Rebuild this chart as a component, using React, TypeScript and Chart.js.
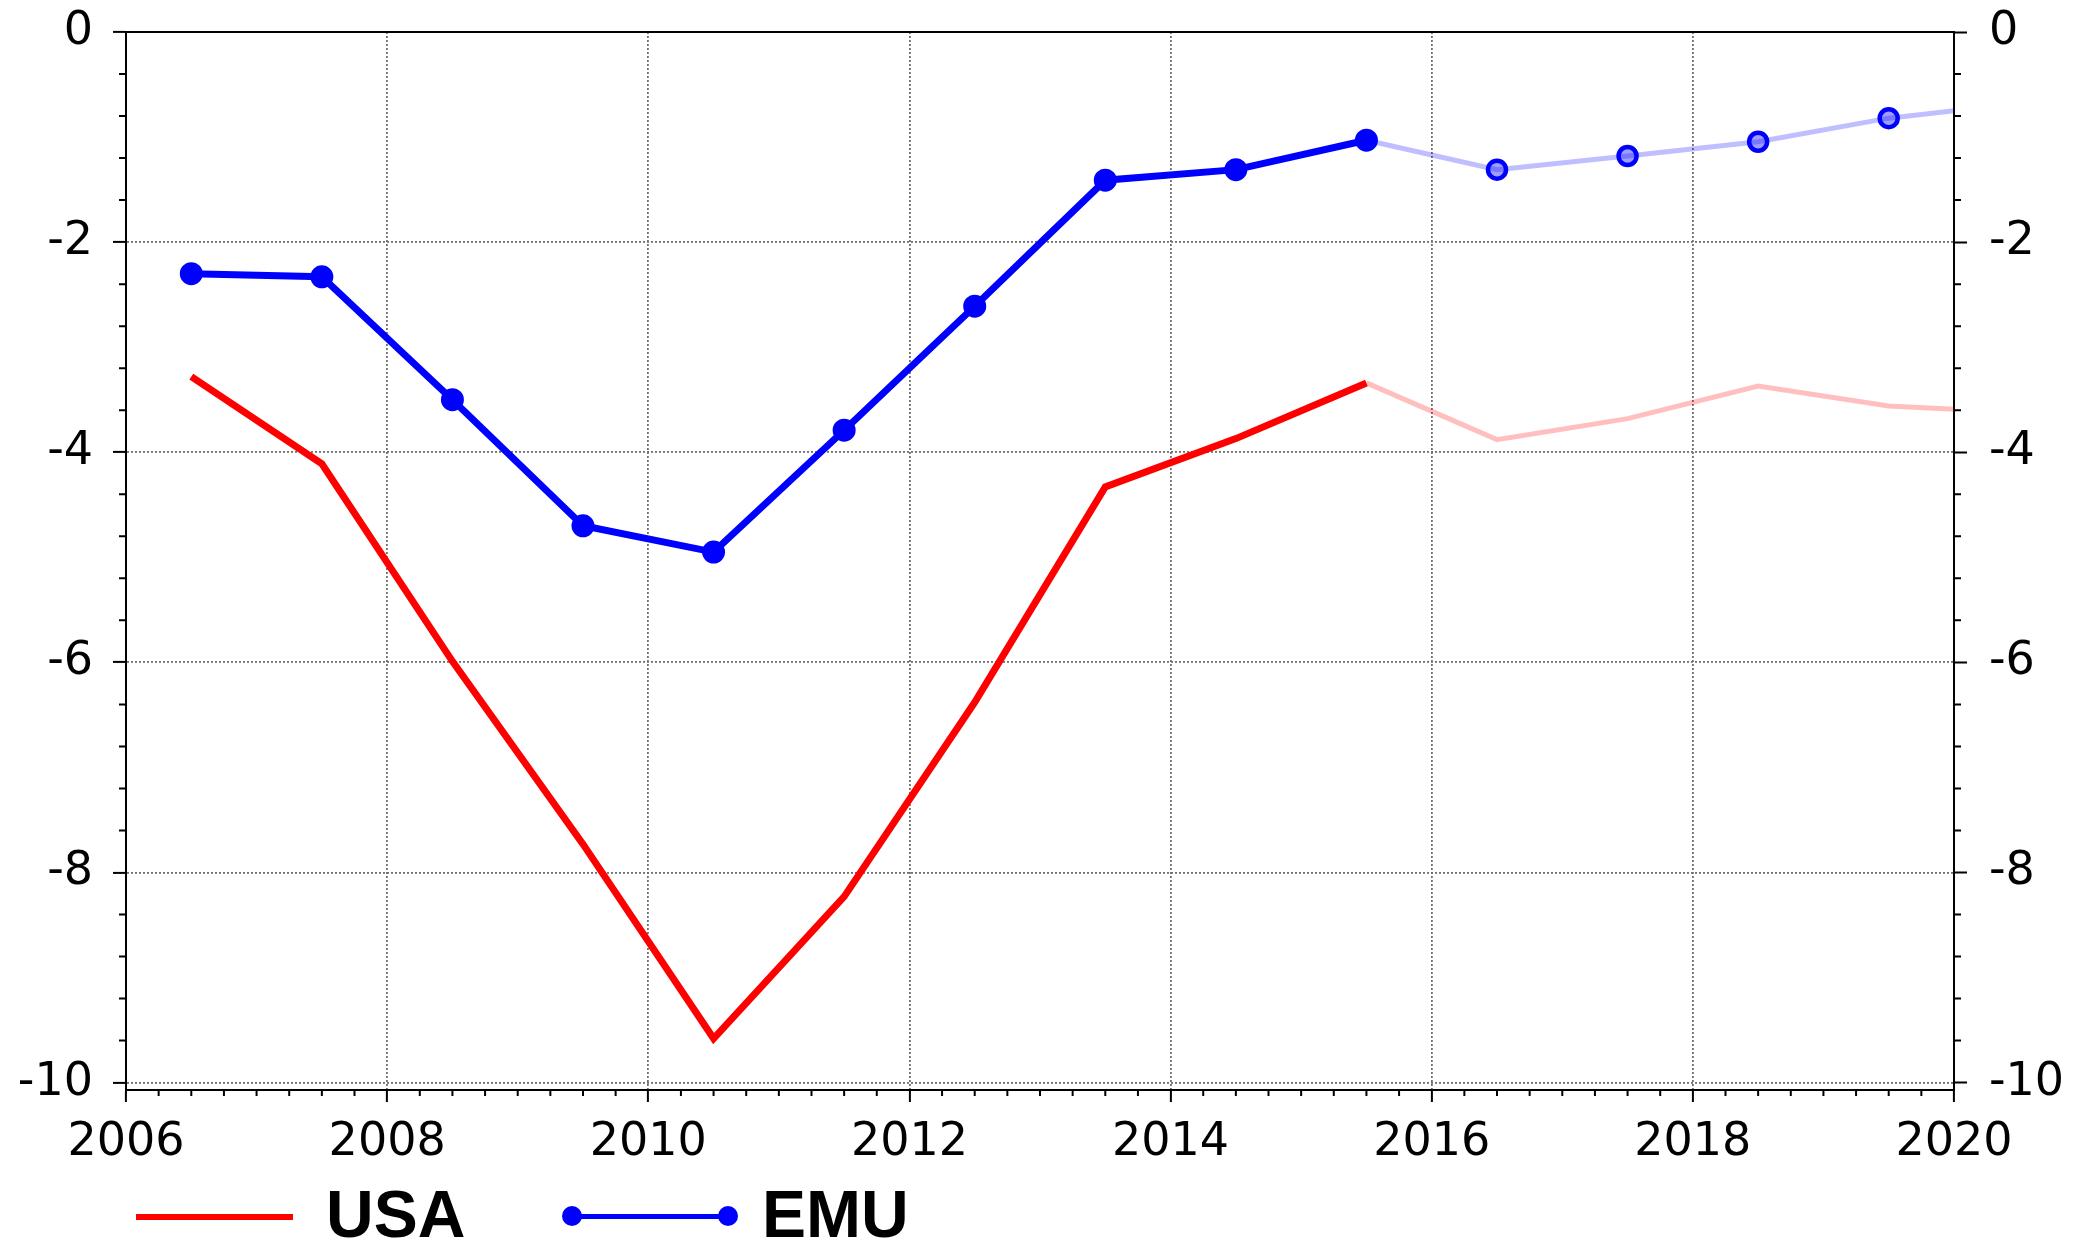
import React, { useEffect, useRef } from "react";
import { Chart, registerables } from "chart.js";

Chart.register(...registerables);

// ---- data ----
const YEARS = [2006.5, 2007.5, 2008.5, 2009.5, 2010.5, 2011.5, 2012.5, 2013.5, 2014.5, 2015.5, 2016.5, 2017.5, 2018.5, 2019.5, 2020.5];
const USA = [-3.28, -4.11, -5.99, -7.73, -9.58, -8.23, -6.38, -4.33, -3.87, -3.34, -3.88, -3.68, -3.37, -3.56, -3.62];
const EMU = [-2.30, -2.33, -3.50, -4.70, -4.95, -3.79, -2.61, -1.41, -1.31, -1.03, -1.31, -1.18, -1.045, -0.82, -0.68];
const LAST_ACTUAL_YEAR = 2015.5;
const Y_TICKS = [0, -2, -4, -6, -8, -10];
const X_MIN = 2006;
const X_MAX = 2020;
const Y_MIN = -10.07;
const Y_MAX = 0;
const SERIES_NAMES = ["USA", "EMU"];

const W = 2073;
const H = 1241;
const TICK_FONT = { family: "'DejaVu Sans', sans-serif", size: 46 };

const minorTicks = {
  id: "minorTicks",
  afterDraw(chart: any) {
    const { ctx, chartArea: a, scales } = chart;
    const xs = scales.x;
    const ys = scales.y;
    ctx.save();
    ctx.strokeStyle = "#000";
    ctx.lineWidth = 2;
    ctx.beginPath();
    for (let i = 0; i <= (X_MAX - X_MIN) * 4; i++) {
      if (i % 8 === 0) continue;
      const px = xs.getPixelForValue(X_MIN + i * 0.25);
      ctx.moveTo(px, a.bottom);
      ctx.lineTo(px, a.bottom + 6);
    }
    for (let i = 0; i <= 25; i++) {
      if (i % 5 === 0) continue;
      const py = ys.getPixelForValue(-i * 0.4);
      ctx.moveTo(a.left, py);
      ctx.lineTo(a.left - 7, py);
      ctx.moveTo(a.right, py);
      ctx.lineTo(a.right + 7, py);
    }
    ctx.moveTo(a.left, a.top);
    ctx.lineTo(a.right, a.top);
    ctx.stroke();
    ctx.restore();
  },
};

const isForecastSeg = (c: any) => c.p0.parsed.x >= LAST_ACTUAL_YEAR;
const isForecastPt = (c: any) => YEARS[c.dataIndex] > LAST_ACTUAL_YEAR;

export default function App() {
  const ref = useRef<HTMLCanvasElement | null>(null);

  useEffect(() => {
    if (!ref.current) return;
    const yTicksAfterBuild = (scale: any) => {
      scale.ticks = Y_TICKS.map((v) => ({ value: v }));
    };
    const fitY = (w: number) => (s: any) => {
      s.width = w;
      s.paddingTop = 0;
      s.paddingBottom = 0;
    };
    const chart = new Chart(ref.current, {
      type: "line",
      data: {
        datasets: [
          {
            label: SERIES_NAMES[0],
            data: YEARS.map((x, i) => ({ x, y: USA[i] })),
            borderColor: "#ff0000",
            borderWidth: 7,
            pointRadius: 0,
            segment: {
              borderColor: (c: any) => (isForecastSeg(c) ? "rgba(255,0,0,0.25)" : "#ff0000"),
              borderWidth: (c: any) => (isForecastSeg(c) ? 5 : 7),
            },
          },
          {
            label: SERIES_NAMES[1],
            data: YEARS.map((x, i) => ({ x, y: EMU[i] })),
            borderColor: "#0000ff",
            borderWidth: 7,
            pointRadius: (c: any) => (isForecastPt(c) ? 9 : 10.5),
            pointBorderWidth: (c: any) => (isForecastPt(c) ? 4.5 : 2),
            pointBorderColor: "#0000ff",
            pointBackgroundColor: (c: any) => (isForecastPt(c) ? "rgba(0,0,255,0.38)" : "#0000ff"),
            segment: {
              borderColor: (c: any) => (isForecastSeg(c) ? "rgba(0,0,255,0.25)" : "#0000ff"),
              borderWidth: (c: any) => (isForecastSeg(c) ? 5 : 7),
            },
          },
        ],
      },
      options: {
        responsive: false,
        animation: false,
        layout: { padding: { top: 32, left: 0, right: 0, bottom: 0 } },
        plugins: { legend: { display: false }, tooltip: { enabled: false } },
        scales: {
          x: {
            type: "linear",
            position: "bottom",
            min: X_MIN,
            max: X_MAX,
            afterFit: (s: any) => {
              s.height = H - 1090;
            },
            ticks: {
              stepSize: 2,
              autoSkip: false,
              maxRotation: 0,
              color: "#000",
              font: TICK_FONT,
              padding: 13,
              callback: (v: any) => String(v),
            },
            grid: {
              color: "#707070",
              lineWidth: 1.8,
              drawTicks: true,
              tickLength: 12,
              tickColor: "#000",
              tickWidth: 2,
            },
            border: { display: true, color: "#000", width: 2, dash: [2, 2] },
          },
          y: {
            type: "linear",
            position: "left",
            min: Y_MIN,
            max: Y_MAX,
            afterBuildTicks: yTicksAfterBuild,
            afterFit: fitY(126),
            ticks: {
              color: "#000",
              font: TICK_FONT,
              padding: 20,
              callback: (v: any) => String(v),
            },
            grid: {
              color: "#707070",
              lineWidth: 1.8,
              drawTicks: true,
              tickLength: 13,
              tickColor: "#000",
              tickWidth: 2,
            },
            border: { display: true, color: "#000", width: 2, dash: [2, 2] },
          },
          y2: {
            type: "linear",
            position: "right",
            min: Y_MIN,
            max: Y_MAX,
            afterBuildTicks: yTicksAfterBuild,
            afterFit: fitY(W - 1954),
            ticks: {
              color: "#000",
              font: TICK_FONT,
              padding: 22,
              callback: (v: any) => String(v),
            },
            grid: {
              drawOnChartArea: false,
              drawTicks: true,
              tickLength: 13,
              tickColor: "#000",
              tickWidth: 2,
            },
            border: { display: true, color: "#000", width: 2 },
          },
        },
      },
      plugins: [minorTicks],
    } as any);
    return () => chart.destroy();
  }, []);

  const legendText: React.CSSProperties = {
    position: "absolute",
    top: 1181,
    fontFamily: "'Liberation Sans', Arial, sans-serif",
    fontWeight: "bold",
    fontSize: 66,
    lineHeight: "66px",
    color: "#000",
    whiteSpace: "nowrap",
  };
  const dot = (left: number): React.CSSProperties => ({
    position: "absolute",
    left: left - 10,
    top: 1206,
    width: 20,
    height: 20,
    borderRadius: "50%",
    background: "#0000ff",
  });

  return (
    <div
      style={{
        position: "fixed",
        left: 0,
        top: 0,
        width: W,
        height: H,
        overflow: "hidden",
        background: "#fff",
      }}
    >
      <canvas ref={ref} width={W} height={H} style={{ position: "absolute", left: 0, top: 0 }} />
      <div style={{ position: "absolute", left: 136, top: 1213.5, width: 157, height: 6, background: "#ff0000" }} />
      <div style={{ ...legendText, left: 326 }}>{SERIES_NAMES[0]}</div>
      <div style={{ position: "absolute", left: 572, top: 1214, width: 156, height: 4.5, background: "#0000ff" }} />
      <div style={dot(572)} />
      <div style={dot(728)} />
      <div style={{ ...legendText, left: 762 }}>{SERIES_NAMES[1]}</div>
    </div>
  );
}
